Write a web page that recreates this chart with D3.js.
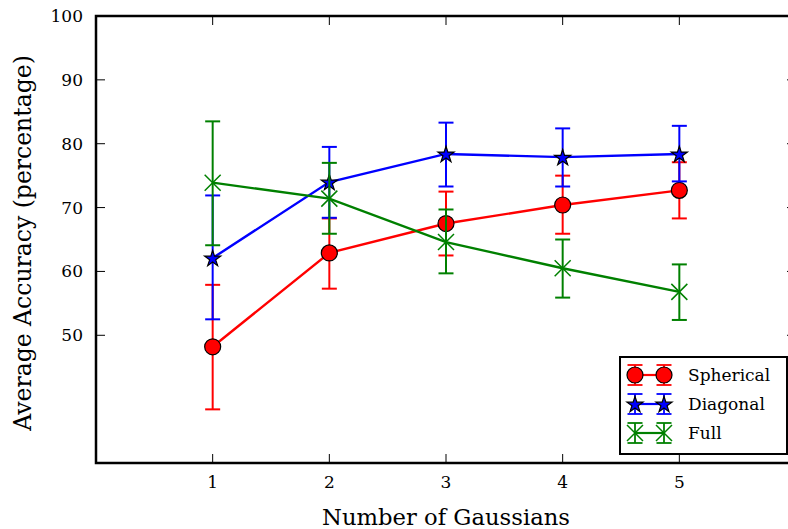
<!DOCTYPE html>
<html>
<head>
<meta charset="utf-8">
<script src="https://cdn.jsdelivr.net/npm/d3@7"></script>
<style>
  body { margin: 0; background: #fff; }
  svg { display: block; }
  text { font-family: "DejaVu Serif", "Liberation Serif", serif; fill: #000; }
</style>
</head>
<body>
<div id="chart"></div>
<script>
// --- data ---
const gaussians = [1, 2, 3, 4, 5];

const sphericalMean = [48.2, 62.9, 67.5, 70.4, 72.7];
const sphericalLow  = [38.4, 57.3, 62.5, 65.9, 68.3];
const sphericalHigh = [57.9, 68.3, 72.5, 75.0, 77.1];

const diagonalMean = [62.1, 74.0, 78.4, 77.9, 78.4];
const diagonalLow  = [52.5, 68.4, 73.3, 73.3, 74.1];
const diagonalHigh = [71.9, 79.5, 83.3, 82.4, 82.8];

const fullMean = [73.9, 71.4, 64.6, 60.5, 56.8];
const fullLow  = [64.1, 65.9, 59.7, 55.9, 52.4];
const fullHigh = [83.5, 77.0, 69.7, 65.0, 61.1];

const yTicks = [50, 60, 70, 80, 90, 100];

const series = [
  { name: "Spherical", color: "#ff0000", marker: "circle", mean: sphericalMean, lo: sphericalLow, hi: sphericalHigh },
  { name: "Diagonal", color: "#0000ff", marker: "star", mean: diagonalMean, lo: diagonalLow, hi: diagonalHigh },
  { name: "Full", color: "#008000", marker: "x", mean: fullMean, lo: fullLow, hi: fullHigh }
];

const width = 788, height = 529;
const margin = { top: 16, right: -8, bottom: 66, left: 96 };

const svg = d3.select("#chart").append("svg")
  .attr("width", width)
  .attr("height", height);

const x = d3.scaleLinear().domain([0, 6]).range([margin.left, width - margin.right]);
const y = d3.scaleLinear().domain([30, 100]).range([height - margin.bottom, margin.top]);

const cap = 7.5;

function drawMarker(g, type, color, cx, cy) {
  if (type === "circle") {
    g.append("circle").attr("cx", cx).attr("cy", cy).attr("r", 8)
      .attr("fill", color).attr("stroke", "#000").attr("stroke-width", 1.2);
  } else if (type === "star") {
    g.append("path")
      .attr("d", d3.symbol(d3.symbolStar, 80)())
      .attr("transform", `translate(${cx},${cy + 0.8})`)
      .attr("fill", color).attr("stroke", "#000").attr("stroke-width", 1.2);
  } else {
    const s = 8;
    g.append("path")
      .attr("d", `M${cx - s},${cy - s}L${cx + s},${cy + s}M${cx - s},${cy + s}L${cx + s},${cy - s}`)
      .attr("stroke", color).attr("stroke-width", 1.5).attr("fill", "none");
  }
}

// --- series: error bars, lines, markers ---
series.forEach((s) => {
  const g = svg.append("g");
  const pts = gaussians.map((v, i) => ({ x: v, m: s.mean[i], lo: s.lo[i], hi: s.hi[i] }));

  const eb = g.append("g").attr("stroke", s.color).attr("stroke-width", 2).attr("fill", "none");
  pts.forEach((d) => {
    eb.append("line").attr("x1", x(d.x)).attr("x2", x(d.x)).attr("y1", y(d.lo)).attr("y2", y(d.hi));
    eb.append("line").attr("x1", x(d.x) - cap).attr("x2", x(d.x) + cap).attr("y1", y(d.lo)).attr("y2", y(d.lo));
    eb.append("line").attr("x1", x(d.x) - cap).attr("x2", x(d.x) + cap).attr("y1", y(d.hi)).attr("y2", y(d.hi));
  });

  g.append("path")
    .datum(pts)
    .attr("fill", "none")
    .attr("stroke", s.color)
    .attr("stroke-width", 2.4)
    .attr("d", d3.line().x((d) => x(d.x)).y((d) => y(d.m)));

  pts.forEach((d) => drawMarker(g, s.marker, s.color, x(d.x), y(d.m)));
});

// --- frame and ticks ---
const x0 = x(0), x1 = x(6), yb = y(30), yt = y(100);
const frame = svg.append("g").attr("stroke", "#000").attr("fill", "none");
frame.append("path")
  .attr("d", `M${x0},${yt}H${x1}V${yb}H${x0}Z`)
  .attr("stroke-width", 2.5);

const tickLen = 9;
gaussians.forEach((v) => {
  frame.append("line").attr("x1", x(v)).attr("x2", x(v)).attr("y1", yb).attr("y2", yb - tickLen).attr("stroke-width", 1);
  frame.append("line").attr("x1", x(v)).attr("x2", x(v)).attr("y1", yt).attr("y2", yt + tickLen).attr("stroke-width", 1);
});
yTicks.forEach((v) => {
  frame.append("line").attr("x1", x0).attr("x2", x0 + tickLen).attr("y1", y(v)).attr("y2", y(v)).attr("stroke-width", 1);
  frame.append("line").attr("x1", x1).attr("x2", x1 - tickLen).attr("y1", y(v)).attr("y2", y(v)).attr("stroke-width", 1);
});

svg.append("g").selectAll("text").data(gaussians).join("text")
  .attr("x", (d) => x(d)).attr("y", yb + 25)
  .attr("text-anchor", "middle").attr("font-size", 17)
  .text((d) => d);

svg.append("g").selectAll("text").data(yTicks).join("text")
  .attr("x", x0 - 13).attr("y", (d) => y(d)).attr("dy", "0.35em")
  .attr("text-anchor", "end").attr("font-size", 17)
  .text((d) => d);

svg.append("text")
  .attr("x", 446).attr("y", 525)
  .attr("text-anchor", "middle").attr("font-size", 22.7)
  .text("Number of Gaussians");

svg.append("text")
  .attr("transform", `translate(31,243) rotate(-90)`)
  .attr("text-anchor", "middle").attr("font-size", 23.5)
  .text("Average Accuracy (percentage)");

// --- legend ---
const legend = svg.append("g");
legend.append("rect")
  .attr("x", 620).attr("y", 357).attr("width", 167).attr("height", 97)
  .attr("fill", "#fff").attr("stroke", "#000").attr("stroke-width", 2);

series.forEach((s, i) => {
  const ly = 375 + i * 29;
  const lx = [635, 664];
  const row = legend.append("g");
  const eb = row.append("g").attr("stroke", s.color).attr("stroke-width", 1.8);
  lx.forEach((px) => {
    eb.append("line").attr("x1", px).attr("x2", px).attr("y1", ly - 10).attr("y2", ly + 10);
    eb.append("line").attr("x1", px - cap).attr("x2", px + cap).attr("y1", ly - 10).attr("y2", ly - 10);
    eb.append("line").attr("x1", px - cap).attr("x2", px + cap).attr("y1", ly + 10).attr("y2", ly + 10);
  });
  row.append("line").attr("x1", lx[0]).attr("x2", lx[1]).attr("y1", ly).attr("y2", ly)
    .attr("stroke", s.color).attr("stroke-width", 2.2);
  lx.forEach((px) => drawMarker(row, s.marker, s.color, px, ly));
  row.append("text").attr("x", 688).attr("y", ly).attr("dy", "0.35em")
    .attr("font-size", 17).text(s.name);
});
</script>
</body>
</html>
